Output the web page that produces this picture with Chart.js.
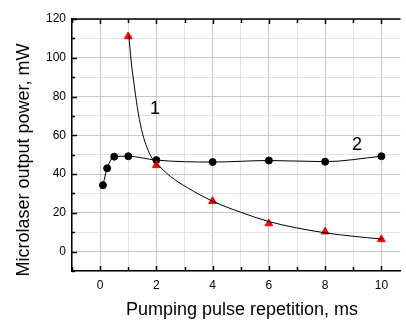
<!DOCTYPE html>
<html>
<head>
<meta charset="utf-8">
<script src="https://cdn.jsdelivr.net/npm/chart.js@4/dist/chart.umd.min.js"></script>
<style>
    html, body { margin: 0; padding: 0; background: #fff; }
    #wrap { width: 406px; height: 320px; }
</style>
</head>
<body>
<div id="wrap"><canvas id="chart1" width="406" height="320"></canvas></div>
<script>
// curve 1 - red triangles (measured)
const x1 = [1, 2, 4, 6, 8, 10]
const y1 = [111, 44.5, 26, 14.5, 10.3, 6.3]
// curve 1 - fitted line
const fitX1 = [1.02, 1.1, 1.22, 1.36, 1.51, 1.66, 1.86, 2, 2.5, 3.1, 4, 5, 6, 7, 8, 9, 10]
const fitY1 = [111.6, 98.7, 84.9, 71.1, 60.8, 53.9, 47.9, 45.6, 38.8, 33, 26, 20.3, 15.5, 12.2, 9.7, 7.9, 6.5]
// curve 2 - black circles
const x2 = [0.1, 0.25, 0.5, 1, 2, 4, 6, 8, 10]
const y2 = [34.3, 43, 49, 49.2, 47.2, 46.2, 47, 46.4, 49.2]

const xTitle = 'Pumping pulse repetition, ms'
const yTitle = 'Microlaser output power, mW'
const curveNames = ['1', '2']
const nameX = [1.95, 9.13]
const nameY = [73.6, 55]

const font = '"Liberation Sans", Arial, sans-serif'

function pts(xs, ys){
    return xs.map((x, i) => ({x: x, y: ys[i]}))
}

// titles, curve numbers, top border and inward ticks
const extras = {
    id: 'extras',
    afterDraw(chart){
        const ctx = chart.ctx
        const a = chart.chartArea
        const sx = chart.scales.x
        const sy = chart.scales.y
        ctx.save()
        ctx.strokeStyle = '#000'
        ctx.lineWidth = 1.5
        ctx.beginPath()
        ctx.moveTo(a.left, a.top)
        ctx.lineTo(a.right, a.top)
        ctx.stroke()

        for (let v = -1; v <= 10; v++) {
            const px = Math.round(sx.getPixelForValue(v)) + 0.5
            const len = v % 2 === 0 ? 5 : 4
            ctx.beginPath()
            ctx.moveTo(px, a.bottom)
            ctx.lineTo(px, a.bottom - len)
            ctx.moveTo(px, a.top)
            ctx.lineTo(px, a.top + len)
            ctx.stroke()
        }
        for (let v = -10; v <= 120; v += 10) {
            const py = Math.round(sy.getPixelForValue(v)) + 0.5
            const len = v % 20 === 0 ? 5 : 3
            ctx.beginPath()
            ctx.moveTo(a.left, py)
            ctx.lineTo(a.left + len, py)
            ctx.stroke()
        }

        ctx.fillStyle = '#000'
        ctx.font = '18px ' + font
        ctx.textAlign = 'center'
        ctx.textBaseline = 'middle'
        curveNames.forEach((n, i) => {
            ctx.fillText(n, sx.getPixelForValue(nameX[i]), sy.getPixelForValue(nameY[i]))
        })

        ctx.textBaseline = 'alphabetic'
        ctx.fillText(xTitle, 242, 315)
        ctx.translate(24, 160)
        ctx.rotate(-Math.PI / 2)
        ctx.textBaseline = 'middle'
        ctx.fillText(yTitle, 0, 0)
        ctx.restore()
    }
}

function grafico(){
    const data = {
        datasets: [{
            data: pts(fitX1, fitY1),
            borderColor: '#000',
            borderWidth: 1,
            pointRadius: 0,
            cubicInterpolationMode: 'monotone'
        }, {
            data: pts(x1, y1),
            showLine: false,
            pointStyle: 'triangle',
            pointRadius: 4.5,
            pointBackgroundColor: '#ff0000',
            pointBorderColor: '#ff0000'
        }, {
            data: pts(x2, y2),
            borderColor: '#000',
            borderWidth: 1,
            pointStyle: 'circle',
            pointRadius: 3.5,
            pointBackgroundColor: '#000',
            pointBorderColor: '#000',
            cubicInterpolationMode: 'monotone'
        }]
    }
    new Chart(document.getElementById('chart1'), {
        type: 'line',
        data,
        plugins: [extras],
        options: {
            responsive: false,
            animation: false,
            layout: {padding: {top: 19, right: 0, left: 0, bottom: 0}},
            plugins: {legend: {display: false}, tooltip: {enabled: false}},
            scales: {
                x: {
                    type: 'linear',
                    min: -1,
                    max: 10.68,
                    afterBuildTicks: s => {
                        s.ticks = []
                        for (let v = -1; v <= 10; v++) s.ticks.push({value: v})
                    },
                    afterFit: s => { s.height = 49 },
                    grid: {
                        drawTicks: false,
                        color: c => c.tick && c.tick.value % 2 === 0 ? '#c8c8c8' : '#e2e2e2'
                    },
                    border: {color: '#000', width: 1.5},
                    ticks: {
                        padding: 7,
                        color: '#000',
                        font: {family: font, size: 12},
                        callback: v => v % 2 === 0 ? v : ''
                    }
                },
                y: {
                    min: -10,
                    max: 120,
                    afterBuildTicks: s => {
                        s.ticks = []
                        for (let v = -10; v <= 120; v += 10) s.ticks.push({value: v})
                    },
                    afterFit: s => { s.width = 72 },
                    grid: {
                        drawTicks: false,
                        color: c => c.tick && c.tick.value % 20 === 0 ? '#c8c8c8' : '#e2e2e2'
                    },
                    border: {color: '#000', width: 1.5},
                    ticks: {
                        padding: 6,
                        color: '#000',
                        font: {family: font, size: 12},
                        callback: v => v % 20 === 0 ? v : ''
                    }
                }
            }
        }
    })
}

grafico()
</script>
</body>
</html>
